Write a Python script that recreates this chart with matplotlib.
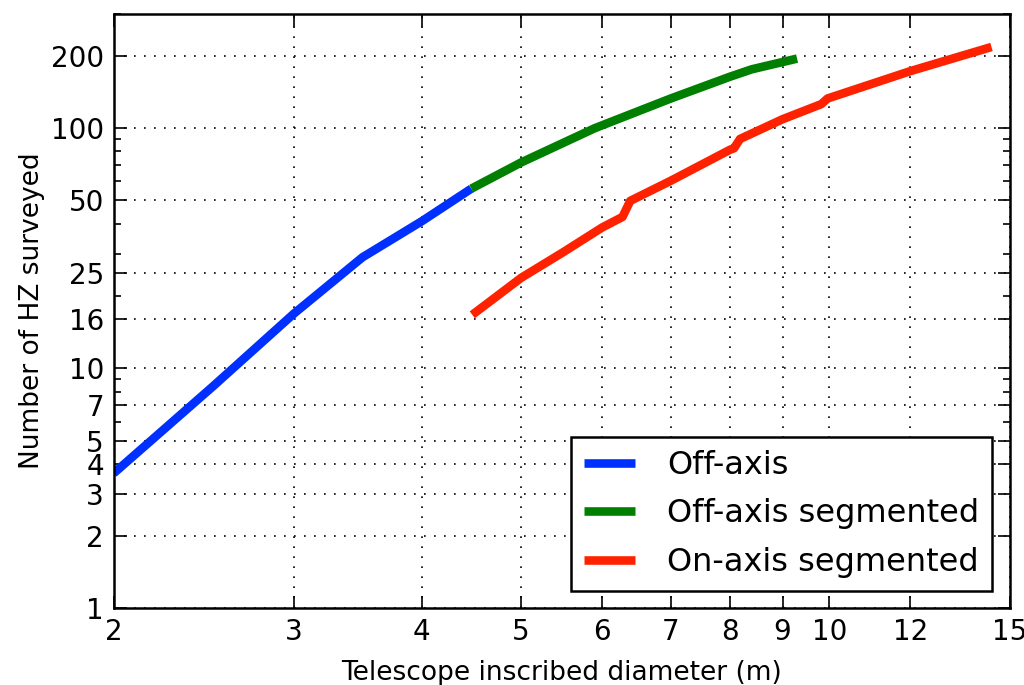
#!/usr/bin/env python3
import matplotlib
matplotlib.use("Agg")
import matplotlib.pyplot as plt
from matplotlib.ticker import FixedLocator, NullLocator, NullFormatter, LogLocator

# ---- data ----
off_axis_d = [2.0, 2.5, 3.0, 3.5, 4.0, 4.47]
off_axis_n = [3.65, 8.4, 16.9, 29.0, 41.0, 56.0]

off_seg_d = [4.47, 5.0, 5.9, 7.0, 8.0, 8.4, 9.3]
off_seg_n = [56.0, 72.0, 100.0, 133.0, 164.0, 176.0, 195.0]

on_seg_d = [4.48, 5.0, 5.5, 6.0, 6.28, 6.39, 7.0, 8.0, 8.07, 8.18, 9.0, 9.82, 9.96, 12.0, 14.4]
on_seg_n = [16.7, 23.8, 30.5, 38.6, 42.7, 49.8, 60.4, 81.4, 82.5, 90.2, 109.0, 126.0, 133.0, 173.0, 218.0]

labels = ["Off-axis", "Off-axis segmented", "On-axis segmented"]
colors = ["#0030ff", "#007f00", "#ff2200"]

x_ticks = [2, 3, 4, 5, 6, 7, 8, 9, 10, 12, 15]
y_ticks = [1, 2, 3, 4, 5, 7, 10, 16, 25, 50, 100, 200]
# ---------------------------------------

fig = plt.figure(figsize=(10.24, 6.85), dpi=100)
ax = fig.add_axes([0.111, 0.112, 0.875, 0.868])

for d, n, lab, c in zip([off_axis_d, off_seg_d, on_seg_d],
                        [off_axis_n, off_seg_n, on_seg_n], labels, colors):
    ax.plot(d, n, color=c, lw=6.2, label=lab, solid_capstyle="butt")

ax.set_xscale("log")
ax.set_yscale("log")
ax.set_xlim(2, 15)
ax.set_ylim(1, 300)

ax.xaxis.set_major_locator(FixedLocator(x_ticks))
ax.set_xticklabels([str(t) for t in x_ticks])
ax.xaxis.set_minor_locator(NullLocator())
ax.yaxis.set_major_locator(FixedLocator(y_ticks))
ax.set_yticklabels([str(t) for t in y_ticks])
ax.yaxis.set_minor_locator(LogLocator(base=10, subs=range(2, 10)))
ax.yaxis.set_minor_formatter(NullFormatter())

ax.tick_params(which="both", direction="in", top=True, right=True, labelsize=20, width=1.2)
ax.tick_params(which="major", length=9, pad=7)
ax.tick_params(which="minor", length=5)
for s in ax.spines.values():
    s.set_linewidth(1.8)

ax.grid(True, which="major", color="black", linestyle=(0, (1, 5)), linewidth=1.2)

ax.set_xlabel("Telescope inscribed diameter (m)", fontsize=19, labelpad=10)
ax.set_ylabel("Number of HZ surveyed", fontsize=19, labelpad=4)

leg = ax.legend(loc="lower right", fontsize=23, fancybox=False, framealpha=1,
                edgecolor="black", handlelength=1.6, handletextpad=1.0,
                labelspacing=0.55, borderaxespad=0.55, borderpad=0.4)
leg.get_frame().set_linewidth(1.8)

fig.savefig("out.png", dpi=100)
